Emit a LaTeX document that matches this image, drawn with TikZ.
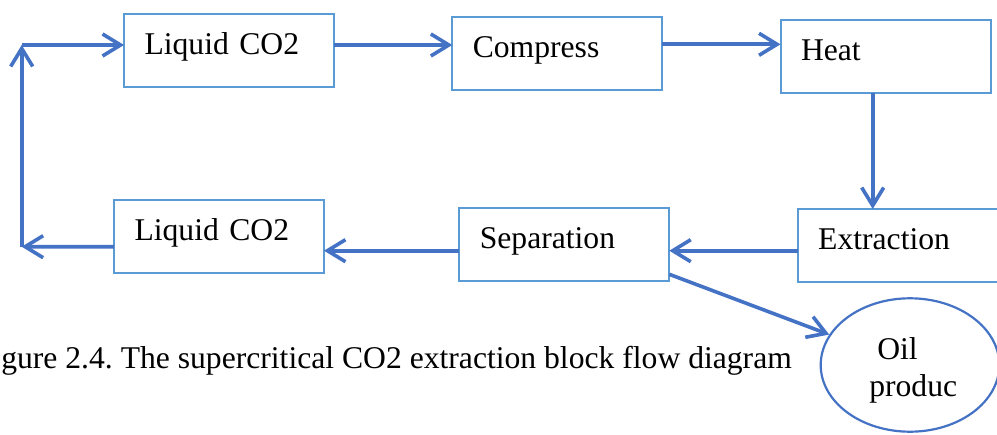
\documentclass[tikz,border=0pt]{standalone}
\usepackage{fontspec}
\setmainfont{Liberation Serif}
\usetikzlibrary{arrows.meta,shapes.geometric}
\definecolor{boxblue}{HTML}{5B9BD5}
\definecolor{flowblue}{HTML}{4472C4}
\newcommand{\blockfont}{\fontsize{22.5}{27}\selectfont}
\frenchspacing
\begin{document}
\begin{tikzpicture}[x=0.25mm, y=-0.25mm,
	stage/.style={draw=boxblue, line width=0.5mm, rectangle, anchor=north west, outer sep=0pt,
		text width=42.25mm, align=left, inner xsep=5.125mm, inner ysep=0pt,
		text height=10.15mm, text depth=8.1mm, font=\blockfont},
	flow/.style={draw=flowblue, line width=0.9mm, -{Straight Barb[length=4.5mm, width=5.5mm]}},
	product/.style={draw=flowblue, line width=0.55mm, ellipse, inner sep=0pt,
		minimum width=44.65mm, minimum height=33.35mm},
	plaintext/.style={inner sep=0pt, font=\blockfont}]
	
	\useasboundingbox (0,0) rectangle (997,435);
	
	\node[stage] (liqtop) at (124,14) {Liquid CO2};
	\node[stage] (compress) at (452.3,17.3) {Compress};
	\node[stage] (heat) at (780.5,19.7) {Heat};
	\node[stage] (extract) at (797.7,209) {Extraction};
	\node[stage] (separate) at (459.3,208.3) {Separation};
	\node[stage] (liqbot) at (114,200) {Liquid CO2};
	
	\node[product] (oil) at (910,365) {};
	\node[plaintext, anchor=base west] (oilone) at (877,359) {Oil};
	\node[plaintext, anchor=base west] (oiltwo) at (869,396.7) {produc};
	
	\node[plaintext, anchor=base west] (figcap) at (1,368.3) {gure 2.4. The supercritical CO2 extraction block flow diagram};
	
	\coordinate (cornerbot) at (21.7,246.7);
	\coordinate (cornertop) at (21.7,45);
	
	\draw[flow] ([yshift=1.375mm]liqtop.east) -- ([yshift=1.375mm]liqtop.east -| compress.west);
	\draw[flow] ([yshift=2.375mm]compress.east) -- ([yshift=2.375mm]compress.east -| heat.west);
	\draw[flow] ([xshift=-3.2mm]heat.south) -- ([xshift=-3.2mm]heat.south |- extract.north);
	\draw[flow] ([yshift=-1.3mm]extract.west) -- ([yshift=-1.3mm]extract.west -| separate.east);
	\draw[flow] ([yshift=-1.475mm]separate.west) -- ([yshift=-1.475mm]separate.west -| liqbot.east);
	\draw[flow] ([yshift=-2.55mm]liqbot.west) -- (cornerbot);
	\draw[flow] (cornerbot) -- (cornertop);
	\draw[flow] (cornertop) -- (cornertop -| liqtop.west);
	\draw[flow] ([yshift=1.75mm]separate.south east) -- (oil);
	
\end{tikzpicture}
\end{document}
